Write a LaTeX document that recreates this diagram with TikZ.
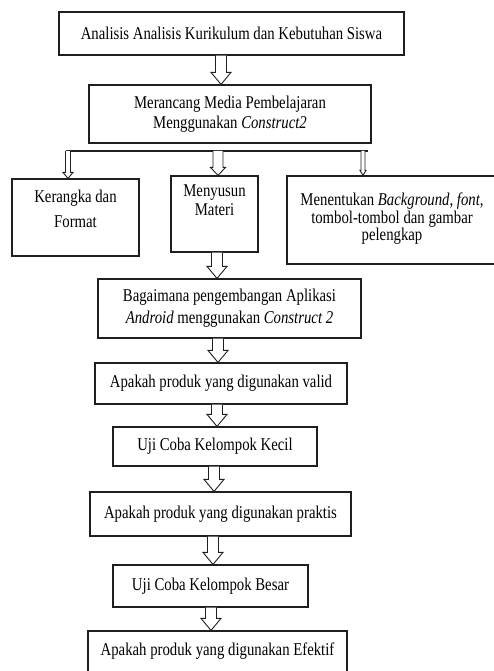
\documentclass[tikz,border=0pt]{standalone}
\usepackage{fontspec}
\setmainfont{Liberation Serif}[FakeStretch=0.82]
\usetikzlibrary{calc}
\definecolor{cLine}{HTML}{1F1F1F}
\tikzset{
  stepbox/.style={
    draw=cLine, rectangle, line width=1.2pt,
    inner sep=2pt, align=center, text=black,
    font=\fontsize{18}{20}\selectfont,
  },
  hollow/.style n args={3}{
    draw=cLine, fill=white, line width=0.9pt, line join=miter,
    to path={
      let \p1=(\tikztostart), \p2=(\tikztotarget) in
      (\x1-#1pt,\y1) -- (\x1-#1pt,\y2+#3pt) -- (\x1-#2pt,\y2+#3pt) -- (\x1,\y2)
      -- (\x1+#2pt,\y2+#3pt) -- (\x1+#1pt,\y2+#3pt) -- (\x1+#1pt,\y1)
    },
  },
  bus/.style={draw=cLine, line width=1.2pt},
}

\begin{document}
\begin{tikzpicture}[x=1pt, y=-1pt]
  \path[use as bounding box, clip] (0,0) rectangle (494,671);

  % Boxes
  \node[stepbox, minimum width=345pt, minimum height=43pt] (analisis) at (231.5,33.5)
    {Analisis Analisis Kurikulum dan Kebutuhan Siswa};
  \node[stepbox, minimum width=282pt, minimum height=58pt] (merancang) at (230,114)
    {Merancang Media Pembelajaran\\Menggunakan \textit{Construct2}};

  \node[stepbox, minimum width=127pt, minimum height=77pt, text depth=18pt,
    font=\fontsize{18}{25}\selectfont] (kerangka) at (75.5,217.5) {Kerangka dan\\Format};
  \node[stepbox, minimum width=87pt, minimum height=76pt, text depth=28pt,
    font=\fontsize{18}{19}\selectfont] (materi) at (214.5,214) {Menyusun\\Materi};
  \node[stepbox, minimum width=210pt, minimum height=88pt, text depth=6pt,
    font=\fontsize{18}{17.5}\selectfont] (tampilan) at (392,220)
    {Menentukan \textit{Background}, \textit{font},\\tombol-tombol dan gambar\\pelengkap};

  \node[stepbox, minimum width=263pt, minimum height=59pt, font=\fontsize{18}{22}\selectfont]
    (aplikasi) at (229.5,308.5) {Bagaimana pengembangan Aplikasi\\\textit{Android} menggunakan \textit{Construct 2}};
  \node[stepbox, minimum width=252pt, minimum height=41pt] (valid) at (221,383.5)
    {Apakah produk yang digunakan valid};
  \node[stepbox, minimum width=204pt, minimum height=39pt] (kecil) at (215,446.5)
    {Uji Coba Kelompok Kecil};
  \node[stepbox, minimum width=261pt, minimum height=44pt] (praktis) at (220.5,514)
    {Apakah produk yang digunakan praktis};
  \node[stepbox, minimum width=195pt, minimum height=42pt] (besar) at (210.5,586)
    {Uji Coba Kelompok Besar};
  \node[stepbox, minimum width=259pt, minimum height=41pt] (efektif) at (217.5,651.5)
    {Apakah produk yang digunakan Efektif};

  % Branch line
  \coordinate (tapL) at (68,151);
  \coordinate (tapM) at (218,151);
  \coordinate (tapR) at (363,151);
  \draw[bus] ([xshift=-2pt]tapL) -- ([xshift=5pt]tapR);

  % Arrows
  \draw[hollow={5.5}{10}{12}] ([xshift=-10.5pt]analisis.south) to (merancang.north);
  \draw[hollow={2.5}{5}{6}] (tapL) to (kerangka.north);
  \draw[hollow={5}{7.5}{8}] (tapM) to (materi.north);
  \draw[hollow={2}{3}{5}] (tapR) to (tampilan.north);
  \draw[hollow={5.5}{10}{12}] ([xshift=2.5pt]materi.south) to (aplikasi.north);
  \draw[hollow={5.5}{10}{12}] ([xshift=-11.5pt]aplikasi.south) to (valid.north);
  \draw[hollow={5.5}{10}{12}] ([xshift=-4pt]valid.south) to (kecil.north);
  \draw[hollow={5.5}{10}{12}] ([xshift=-1pt]kecil.south) to (praktis.north);
  \draw[hollow={5.5}{10}{12}] ([xshift=-7.5pt]praktis.south) to (besar.north);
  \draw[hollow={5.5}{10}{12}] ([xshift=0.5pt]besar.south) to (efektif.north);

\end{tikzpicture}
\end{document}
